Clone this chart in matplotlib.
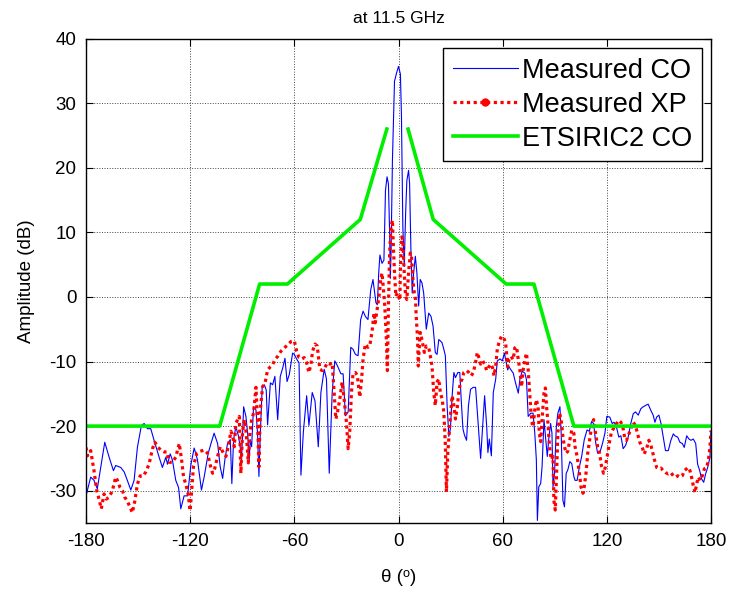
import numpy as np
import matplotlib
matplotlib.use("Agg")
import matplotlib.pyplot as plt
from matplotlib.lines import Line2D

plt.rcParams["font.family"] = ["Liberation Sans", "DejaVu Sans"]
plt.rcParams["axes.unicode_minus"] = False

# Angulos (grados) y amplitudes (dB)
co_theta = [-180, -177.3, -175.4, -173.5, -169.2, -166.7, -164.2, -162.9, -160, -158,
            -156.2, -154.2, -152.3, -150.4, -148.1, -146.5, -144.6, -142.7, -140.8, -137.9,
            -136, -134, -133.1, -131.5, -130.2, -128.3, -126.7, -125.4, -123.5, -121.5,
            -119.6, -117.7, -115.8, -113.5, -111.9, -109.6, -107.7, -106.2, -104.2, -102.7,
            -101.3, -100, -98.5, -96.9, -96, -95, -93.7, -92.3, -91.2, -90.4,
            -89.2, -87.9, -86.9, -86, -85.4, -84.6, -83.5, -82.1, -81.2, -80.4,
            -79.6, -78.5, -77.3, -76.2, -75.4, -73.8, -72.5, -71.2, -69.6, -68.1,
            -66.7, -65.4, -64.2, -62.9, -61, -60, -58.7, -57.3, -56.2, -54.8,
            -52.9, -51.6, -49.7, -48.1, -46.2, -44.7, -42.8, -41.5, -39.9, -38.2,
            -36.7, -35.1, -33.2, -31.9, -30.6, -29, -27.5, -26.2, -24.8, -23.3,
            -21.8, -20.4, -19.1, -17.6, -16, -14.7, -13.7, -13, -12.2, -11.4,
            -10.7, -9.5, -8.4, -7.5, -6.6, -5.8, -5.1, -4.7, -4.3, -3.5,
            -2.3, -1.1, 0, 1.1, 1.7, 2.5, 3.3, 4.1, 4.8, 5.8,
            6.4, 7.1, 7.9, 8.7, 9.7, 10.6, 11.6, 12.5, 13.5, 14.5,
            16, 17.4, 18.7, 19.9, 21.2, 22.2, 23.2, 24.1, 25.1, 26.1,
            27, 28, 29, 29.9, 30.9, 31.9, 32.8, 34.2, 35.3, 36.1,
            37.1, 38, 39.2, 40.3, 41.5, 43.1, 44.4, 45.8, 47.3, 48.5,
            49.6, 50.8, 51.5, 52.3, 53.5, 54.6, 56, 56.9, 58.5, 59.8,
            61, 61.7, 62.9, 63.6, 64.8, 66.1, 67.4, 69, 69.9, 71.2,
            72.8, 73.7, 74.7, 76.2, 77.5, 78.5, 79.4, 80, 80.8, 81.9,
            82.7, 83.8, 84.8, 85.7, 86.5, 87.6, 88.4, 89, 89.9, 90.9,
            91.8, 93, 93.7, 94.7, 95.6, 96.6, 97.5, 98.7, 99.8, 101,
            101.7, 102.9, 104.2, 105.5, 107, 108.6, 109.9, 111.2, 112.4, 113.5,
            114.7, 116.2, 117.5, 118.9, 120, 121.7, 123.1, 124.2, 125.6, 126.9,
            128.1, 129.4, 130.8, 132.3, 133.8, 135.2, 136.5, 138.1, 139.6, 141,
            142.3, 143.8, 145.4, 146.7, 147.7, 148.7, 150, 151.2, 152.5, 153.8,
            155.4, 156.9, 158.3, 159.2, 160.8, 162.1, 163.5, 164.6, 166, 167.3,
            168.5, 169.8, 171.2, 172.3, 173.5, 174.6, 175.8, 176.9, 178.1, 179.4,
            180]
co_amp = [-30.8, -27.9, -28.4, -29.7, -22.5, -24.8, -26.9, -26.1, -26.4, -27.1,
          -28.4, -29.9, -28.4, -23.3, -19.9, -19.6, -20.4, -20.4, -22.2, -24.8,
          -26.4, -24.8, -25.9, -24.3, -25.3, -28.4, -29.5, -32.8, -30.8, -30.8,
          -26.0, -23.4, -25.2, -29.9, -27.8, -24.2, -22.4, -21.1, -22.7, -26.3,
          -28.1, -25.2, -22.7, -22.1, -28.9, -22.1, -20.1, -21.4, -23.2, -25.2,
          -17, -18.5, -21.1, -25.2, -22.1, -23.2, -17, -17.5, -21.1, -27.8,
          -21.1, -13.9, -13.6, -14.4, -19.8, -13.3, -13.6, -12.3, -19, -12.3,
          -11, -9.5, -13.1, -12, -8.7, -8.9, -9.6, -10.2, -27.6, -20.9,
          -15.3, -19.9, -14.8, -16.1, -23.2, -14.8, -11.2, -12.7, -27.3, -14.8,
          -9.9, -10.7, -11.9, -11.9, -18.4, -17.8, -7.8, -8.1, -8.9, -9.1,
          -3.5, -2.2, -3, -3.5, 1.1, 2.7, 0.6, -0.9, -1.2, 3.7,
          6.5, 5.2, 5.7, 16.5, 18.6, 17.5, 9.8, 2.9, 6.8, 21.1,
          33.4, 34.7, 35.7, 34.5, 28, 10.9, 4.7, 12.9, 18, 19.6,
          17.5, 7.8, 0.6, 3.7, 6.3, 3.7, -1.4, 2.7, 2.2, 0.6,
          -5, -2.5, -3, -4.5, -8.6, -8.9, -6.6, -6.8, -7.1, -8.1,
          -9.1, -16.8, -21.6, -20.4, -15.3, -11.7, -12.5, -11.7, -11.7, -15.8,
          -20.4, -21.4, -22.2, -16.8, -14.3, -14, -14, -19.4, -25, -20,
          -15.3, -20, -24.1, -22, -24.6, -14.8, -12.7, -9.9, -9.6, -9.9,
          -8.7, -9.7, -11.3, -10.8, -11.3, -11.8, -13.3, -14.9, -12.8, -11.5,
          -11.8, -12.8, -18.5, -18, -18, -21.1, -25.2, -34.6, -29.4, -28.9,
          -26.3, -19, -22.1, -24.7, -22.1, -19.6, -21.1, -29.4, -27.3, -20.1,
          -18, -17, -21.1, -31.5, -32.5, -27.3, -26.8, -25.5, -25.8, -27.8,
          -28.4, -28.4, -26.3, -24.7, -22.1, -20.6, -20.8, -19.3, -19.6, -22.4,
          -24.2, -23.9, -22.7, -21.1, -18.5, -18.6, -19.6, -19.4, -20.2, -21.7,
          -21.5, -23.5, -23, -21.7, -19.6, -18.1, -17.8, -18.3, -17.3, -17,
          -16.8, -16.6, -17.6, -18.3, -19.4, -18.6, -18.3, -19.6, -21.7, -23.8,
          -23.8, -22.2, -21.2, -21.5, -21.7, -22.5, -22.7, -23.3, -21.5, -22,
          -22.2, -22, -22.7, -25.9, -26.9, -28.2, -28.7, -27.4, -26.4, -24.8,
          -20.7]

xp_theta = [-180, -179.2, -177.3, -175.4, -173.8, -172.5, -171.2, -169.6, -168.3, -166.7,
            -164.8, -162.9, -161.9, -160.4, -159, -157.7, -156.2, -154.6, -153.3, -151.9,
            -150.4, -148.8, -146.9, -145.6, -143.7, -141.7, -140.4, -138.5, -136.5, -135,
            -133.5, -132.1, -130.2, -128.3, -126.3, -125, -123.8, -122.5, -121.2, -120,
            -118.1, -116.2, -114.2, -111.9, -110, -108.5, -107.1, -105.8, -104.2, -102.7,
            -100.8, -99.4, -98.1, -96.5, -95.4, -94.6, -93.7, -92.7, -91.7, -90.8,
            -89.8, -88.8, -87.7, -86.5, -85.8, -84.6, -83.5, -82.1, -81.2, -80.4,
            -79.6, -78.3, -76.9, -75.4, -73.8, -72.5, -71.2, -69.6, -67.7, -65.8,
            -63.8, -61.9, -60, -58.7, -57.3, -55.8, -54.3, -52.9, -51.6, -50.4,
            -49.5, -48.1, -46.8, -45.3, -43.9, -42.4, -40.9, -39.5, -38.2, -37.1,
            -36.1, -35.1, -33.8, -32.5, -31.3, -30, -29, -28.1, -27.1, -26.2,
            -24.8, -23.7, -22.3, -21.4, -20.4, -19.1, -17.6, -16.4, -15.3, -14.1,
            -13.4, -12.6, -11.8, -11, -10.3, -9.5, -8.8, -7.9, -7, -6.4,
            -5.8, -5.1, -4.3, -3.5, -3.1, -2.3, -1.5, -0.8, 0, 0.8,
            1.0, 1.9, 2.5, 3.3, 4.1, 4.8, 5.8, 6.8, 7.5, 8.3,
            9.1, 9.8, 10.2, 11, 11.4, 11.8, 12.5, 13.5, 14.9, 16,
            17.4, 18.3, 19.3, 20.3, 21.2, 22.2, 23.2, 24.1, 25.1, 26.1,
            27, 27.6, 28.4, 29.2, 29.9, 30.9, 31.9, 32.8, 33.8, 34.7,
            35.7, 36.7, 37.6, 39.2, 40.5, 41.9, 43.1, 44.2, 45.4, 46.3,
            47.3, 48.5, 49.6, 50.8, 51.9, 53.1, 54.1, 55, 56, 56.9,
            58.1, 59.3, 60.4, 61.7, 62.9, 63.6, 64.8, 66.1, 67, 68,
            69, 69.9, 70.9, 71.8, 72.8, 73.7, 74.7, 75.6, 76.2, 77,
            77.5, 78.5, 79.4, 80.4, 81.1, 81.9, 82.7, 83.8, 84.6, 85.3,
            86.1, 87, 88, 89, 89.5, 90.3, 91, 91.8, 92.8, 93.7,
            94.7, 95.6, 96.6, 97.5, 98.5, 99.8, 101, 101.7, 102.9, 104.2,
            105.1, 106.3, 107, 108, 109, 110.1, 111.2, 112.4, 113.5, 114.7,
            115.8, 117, 118.1, 119.2, 120.4, 121.7, 122.7, 124.2, 125.6, 126.9,
            128.1, 129.4, 130.4, 131.3, 132.3, 133.8, 135.2, 136.5, 137.7, 139,
            140.4, 141.5, 142.9, 144.2, 145.4, 146.2, 147.3, 148.7, 150, 151.2,
            152.5, 153.8, 155.4, 156.9, 158.3, 159.6, 160.8, 162.1, 163.5, 164.6,
            166, 166.9, 167.9, 168.8, 169.8, 170.8, 171.7, 172.7, 173.8, 175,
            176.2, 177.5, 178.5, 179.4, 180]
xp_amp = [-23.3, -24.6, -23.8, -26.9, -30, -31.3, -32.8, -30.5, -31.3, -31,
          -30, -27.9, -28.4, -29.5, -30, -31, -31.6, -32.6, -33.4, -31.6,
          -29, -27.7, -27.7, -27.1, -25.9, -23.5, -22.5, -23.3, -23.8, -24,
          -24, -25.6, -25.6, -24.8, -22.7, -25.1, -27.9, -29, -30.5, -33.1,
          -26.2, -24.2, -23.9, -23.7, -24.2, -26, -27.3, -26.5, -24.7, -23.2,
          -24.2, -24.7, -23.2, -20.8, -21.7, -23.2, -19.6, -19, -18.5, -27.3,
          -20.8, -19, -21.1, -25.7, -21.7, -19, -18, -14, -19, -26.3,
          -17.5, -13.9, -13.4, -11.3, -10.8, -10.5, -9.7, -9.2, -8.4, -7.9,
          -7.4, -6.9, -6.8, -8.4, -9.4, -9.6, -9.4, -10.2, -11.7, -10.4,
          -8.4, -7.3, -7.6, -11.2, -11.4, -10.9, -10.2, -10.4, -10.2, -14.8,
          -18.9, -17.8, -15.8, -13.2, -15.8, -19.4, -23.5, -20.9, -14.8, -11.9,
          -11.7, -12.2, -15.5, -13.2, -9.6, -7.3, -7.8, -7.3, -5.5, -2.5,
          -4, -2.5, -0.9, 0.6, 2.7, 3.7, 1.6, -1.4, -6.6, -11.4,
          -1.4, 6.8, 10.9, 11.9, 8.8, 3.7, 0.1, 0.6, 0.1, -0.5,
          3.7, 9.3, 8.8, 3.7, 0.1, -0.4, 3.7, 6.8, 6.3, 2.7,
          0.6, -0.4, -3, -6.6, -10.7, -8.6, -5.5, -6.6, -8.6, -7.6,
          -7.8, -9.1, -10.7, -14.8, -16.8, -13.2, -12.7, -14.8, -15.8, -17.8,
          -23, -30.2, -24.1, -21.1, -18.5, -15.3, -16.8, -18.9, -17.3, -14.8,
          -13.2, -12.7, -11.7, -11.4, -11.7, -12.2, -11.7, -10.4, -8.6, -9.4,
          -10.4, -9.9, -10.4, -11.4, -10.9, -10.4, -10.9, -12.2, -10.7, -8.1,
          -6.8, -6.1, -6.2, -7.1, -10.8, -9.7, -9.2, -9.7, -7.9, -7.7,
          -9.7, -11.3, -13.9, -11.3, -9.7, -8.7, -11.3, -14.9, -17.5, -19.6,
          -20.1, -17.5, -15.9, -17, -21.1, -22.4, -19, -14.9, -14.1, -17,
          -19.6, -23.2, -25.2, -24.7, -31.5, -33, -27.8, -21.1, -18, -19,
          -21.6, -23.2, -24.2, -23.9, -22.4, -20.6, -21.1, -23.2, -24.7, -27.3,
          -29.4, -30.4, -29.4, -27.3, -24.2, -22.1, -20.1, -19, -21.1, -23.2,
          -24.2, -26.3, -27.3, -26.3, -24.3, -22.2, -20.9, -20.2, -19.6, -19.1,
          -19.4, -20.4, -22, -22.2, -21.5, -20.4, -19.4, -19.9, -21.2, -22.5,
          -23.3, -24.3, -23.5, -22.2, -23, -23.8, -25.1, -26.4, -26.6, -26.5,
          -26.9, -27.2, -27.4, -27.2, -27.7, -27.9, -27.7, -27.9, -27.7, -26.9,
          -26.6, -26.4, -26.9, -27.9, -29.2, -30.3, -29, -27.9, -28.4, -27.7,
          -26.6, -26.4, -25.3, -23.3, -20.7]

# Mascara ETSI RIC2 (hueco en el haz principal)
mask_theta = [-180, -103, -80, -64, -22, -6.7, np.nan, 5.5, 20, 62, 78, 101, 180]
mask_amp = [-20, -20, 2, 2, 12, 26, np.nan, 26, 12, 2, 2, -20, -20]

fig = plt.figure(figsize=(7.32, 5.97), dpi=100)
ax = fig.add_axes([0.1175, 0.124, 0.8538, 0.8113])

ax.plot(co_theta, co_amp, color="blue", linewidth=0.8)
ax.plot(xp_theta, xp_amp, color="red", linewidth=2.3, linestyle=(0, (1.0, 1.1)))
ax.plot(mask_theta, mask_amp, color="#00ee00", linewidth=2.6)

ax.set_xlim(-180, 180)
ax.set_ylim(-35, 40)
ax.set_xticks(np.arange(-180, 181, 60))
ax.set_yticks(np.arange(-30, 41, 10))
ax.tick_params(direction="in", top=True, right=True, labelsize=13.5, length=5, width=0.8)
ax.tick_params(axis="y", pad=7)
ax.tick_params(axis="x", pad=7)
ax.grid(True, linestyle=":", color="#444444", linewidth=0.7)
for s in ax.spines.values():
    s.set_linewidth(1.0)

ax.set_title("at 11.5 GHz", fontsize=12.5, pad=11)
ax.set_ylabel("Amplitude (dB)", fontsize=13.5, labelpad=10)
ax.set_xlabel("\u03b8 (\u1d52)", fontsize=13.5, labelpad=14)

handles = [
    Line2D([], [], color="blue", linewidth=0.8),
    Line2D([], [], color="red", linewidth=2.3, linestyle=(0, (1.0, 1.1)),
           marker="o", markersize=5),
    Line2D([], [], color="#00ee00", linewidth=2.6),
]
leg = ax.legend(handles, ["Measured CO", "Measured XP", "ETSIRIC2 CO"],
                loc="upper right", fontsize=19.5, handlelength=2.4,
                handletextpad=0.15, labelspacing=0.3, borderpad=0.35,
                borderaxespad=0.35, fancybox=False, framealpha=1,
                edgecolor="black")
leg.get_frame().set_linewidth(1.0)

fig.savefig("out.png", dpi=100)
